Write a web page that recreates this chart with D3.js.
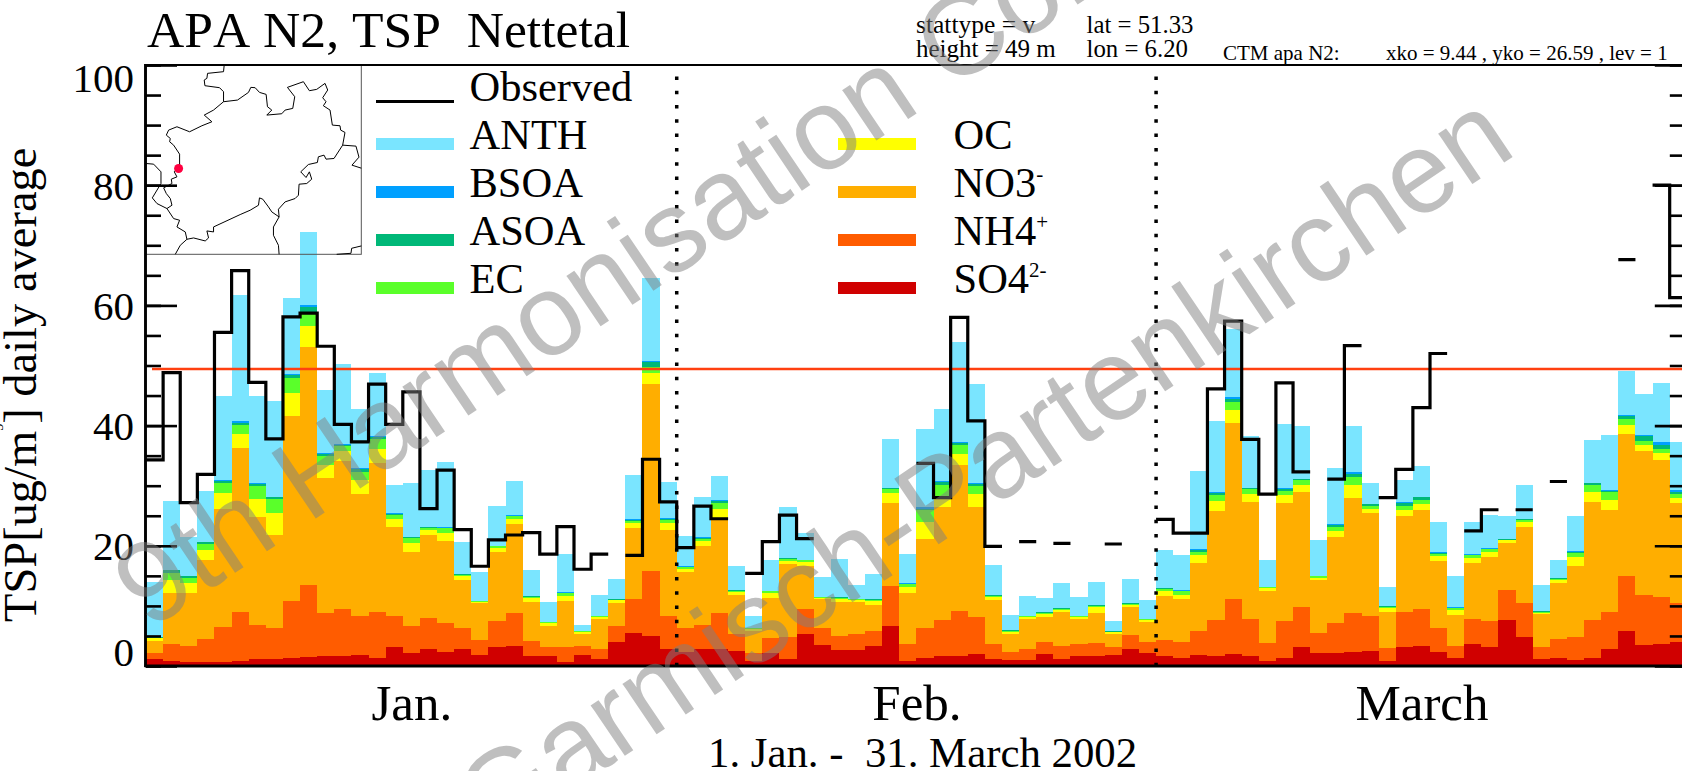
<!DOCTYPE html>
<html>
<head>
<meta charset="utf-8">
<script src="https://cdn.jsdelivr.net/npm/d3@7"></script>
<style>
  html, body { margin: 0; padding: 0; background: #fff; overflow: hidden; }
  svg { display: block; }
  text { font-family: "Liberation Serif", serif; fill: #000; white-space: pre; font-kerning: none; }
</style>
</head>
<body>
<script>
// Daily values, 1 Jan - 31 March 2002, ug/m3. Stacked bottom to top.
const so4 = [1.1,.8,.6,.6,.7,.8,1.1,1.2,1.3,1.5, 1.7,1.7,1.8,1.4,3.1,2.2,2.9,2.3,2.9,1.8, 3.1,3.3,1.7,1.6,.7,1.9,1.1,4,5.5,5, 2.8,
  2.3,2.8,2.8,2.5,.9,2.1,1.1,5.4,3.5, 2.6,2.7,3.3,6.7,.9,1.4,1.6,1.6,2,1.2, 1,1,2,1.2,1.7,1.6,1.8,2.8,2.2,
  1.6,1.3,1.8,1.7,2,1.6,.9,1.3,3.1,2.2,2.1, 2.4,2.5,.9,3.2,3.4,2.3,1.3,3.7,3.2,7.7, 4.8,1.2,1.4,1,1.4,2.9,5.9,3.5,3.6,4];
const nh4 = [1,2.8,2.7,3.9,5.8,8.2,5.8,5.1,9.5,12, 7.2,7.8,6.6,7.6,5.3,4.5,5.1,4.9,3.4,2.5, 4.4,5.5,2.5,1.6,2.5,1.4,1.7,2.7,5.6,10.8, 5.5,
  4.1,4.1,6,2.9,1.3,2.6,3.7,4.1,2.8, 2.4,2.6,2.5,6.6,2.8,4.9,6.1,7.6,6.2,2.5, 1.3,1.8,2,2.1,1.9,2.2,1.4,2.4,1.8,
  2.7,2.7,4,5.9,9.2,6.2,2.9,6.2,6.7,3.3,5.1, 6.5,5.9,2.1,5.8,6.1,4.1,2,4.1,4.3,5, 5.6,2,3.1,3.9,6.3,6.1,9.1,8.3,7.9,6.4];
const no3 = [2.1,8.5,8.8,13.1,19.6,27.2,17.9,15.5,30.8,39.6, 22.4,24.6,20.3,24.7,14.7,12.3,13.8,13.6,8,6.1, 11.4,14.8,6.5,3.5,7.6,2.1,5,3.8,11.9,31.1, 14.4,
  9.2,13.1,15.5,6.4,3.7,6.6,12.2,7.1,4.8, 5.6,5.4,4.4,13.9,8.5,14.8,18.7,24.2,18.3,7.2, 3,5,4.2,5.7,4.3,5.1,2.1,4.6,3.3,
  7.3,7.1,11.3,18.2,29.3,19.5,8.7,19.6,19.1,8.8,14.3, 19.1,17,6,16,16.5,11,5.2,9.3,10.6,7.7, 12.8,5.4,9.3,11.7,19.6,17,23.6,24,22.8,16.8];
const oc = [.4,2.2,1.7,1.7,2.7,2.4,3,3.6,3.8,3.5, 2.2,1.6,2.2,2.4,1.3,1.5,.8,1.4,.6,.3, .7,.8,.6,.4,.9,.3,.4,.4,.8,1.8, 1.1,
  .6,.8,1.9,.5,.3,.8,.5,.7,.2, .5,.3,.6,1.6,.9,2.9,1.5,1.9,2.1,.6, .4,.4,.5,.4,.3,1,.3,.4,.4,
  .8,.7,1.3,1.7,2.1,1.4,.4,1.3,1.2,.4,1, 2.1,.8,.6,.9,.9,.9,.9,.8,.9,.5, .7,.3,.5,1.5,1.7,1.7,1.5,1,1.1,.8];
const ec = [.1,1.2,.9,1,1.6,1.5,2.2,2.4,2.5,2.2, 1.4,.9,1.4,1.6,.7,.8,.4,.7,.3,.1, .3,.5,.2,.2,.4,.1,.1,.1,.4,1.1, .5,
  .2,.4,.9,.2,.1,.3,.3,.3,.1, .2,.1,.2,.7,.5,2,2.2,1.4,1.3,.2, .2,.1,.2,.1,.1,.1,.1,.1,.1,
  .4,.6,.6,1,1.3,.7,.2,.8,.8,.2,.7, 1.4,.5,.2,.7,.7,.4,.2,.5,.4,.1, .4,.1,.2,.7,1.1,1.2,1,.7,.7,.6];
const asoa = [.1,.4,.2,.3,.4,.4,.3,.3,.5,1, .4,.2,.4,.4,.2,.1,.1,.1,.1,0, .1,.1,.1,.1,.1,.1,.1,.1,.1,.7, .2,
  .1,.1,.3,.1,0,.1,.1,.1,0, .1,0,.1,.1,.1,.2,.5,.4,.4,.1, .1,.1,.1,.1,.1,.1,.1,.1,.1,
  .1,.1,.3,.3,.6,.2,.1,.3,.2,.1,.3, .5,.2,.2,.6,.5,.1,.1,.1,.1,.1, .1,.1,.1,.2,.4,.2,.5,.8,.7,.4];
const bsoa = [0,.1,.1,.1,.1,.2,.1,.1,.2,.2, .1,.1,.2,.2,.1,.1,.1,.1,0,0, 0,.1,0,0,.1,0,0,0,.1,.3, .1,
  .1,.1,.2,0,0,0,0,0,0, 0,0,0,.1,.1,.2,.2,.2,.1,0, 0,0,0,0,0,0,0,0,0,
  0,.1,.1,.1,.2,.1,0,.1,0,0,.1, .2,.1,0,.1,.1,.1,.1,.1,.1,0, .1,.1,0,.1,0,.2,.2,.1,.4,.3];
const anth = [9.1,11.5,6.4,8.4,14,21.1,14.6,15.9,12.6,12.2, 10.6,13.3,9.9,10.5,4.7,8.9,9.4,10.9,5.3,4.8, 6.6,5.6,4.4,3.2,6.4,.9,3.4,3.4,7.4,13.7, 6,
  5,6.8,4,4,2,5.1,8.6,4.4,3.4, 6.4,2.4,4.2,8.1,4.9,13,11.9,16.6,16.5,5, 2.5,3.2,2.3,4.2,3.1,3.9,1.7,4,3,
  6.4,5.9,13,11.9,11.4,8.6,4.4,10.7,8.9,6,9.4, 7.8,3.5,3.2,3.6,5.1,5,5.2,5.3,5.5,3.9, 5.6,4.2,3,5.9,7.1,9.1,7.3,6.9,9.9,7.9];

// Station measurements, null where there is no value for the day
const observed = [34.3,48.8,27.2,31.9,55.5,65.8,47.2,37.8,58.1,58.7, 53.2,40.2,37.3,46.9,40.2,45.6,26.2,32.6,22.7,16.6, 21,21.8,22.2,18.6,23.2,16.1,18.6,null,18.4,34.4, 27.3,
  19.7,26.6,24.5,null,15.4,20.7,25.1,21.2,null, null,null,null,null,null,33.7,28,58,40.8,19.9, null,20.7,null,20.4,null,null,20.3,null,null,
  24.4,22.1,22.1,46.1,57.4,37.7,28.6,47.1,32.3,null,31.1, 53.3,null,28,32.7,43,52,null,22.5,26,null, 26,null,30.7,null,null,null,67.6,null,80,61.3];

const seriesKeys = ["SO4","NH4","NO3","OC","EC","ASOA","BSOA","ANTH"];
const seriesValues = [so4,nh4,no3,oc,ec,asoa,bsoa,anth];
const seriesColors = ["#d00000","#ff5c00","#ffae00","#ffff00","#5aff2a","#00b878","#00a0ff","#7ae5ff"];
const seriesSup = {SO4:"2-", NH4:"+", NO3:"-"};

const legendLeft = ["ANTH","BSOA","ASOA","EC"];
const legendRight = ["OC","NO3","NH4","SO4"];

const limitValue = 49.4;
const monthStarts = [31, 59];
const monthNames = ["Jan.","Feb.","March"];
const monthLabelDays = [15.5, 45, 74.5];
const majorTicks = [0,20,40,60,80,100];
const minorTicks = d3.range(0,101,5);
const watermarkLines = ["9th Harmonisation Conference","Garmisch-Partenkirchen"];

// Outline of the state on the inset map, in map units
const mapBorders = [
  [[282,30],[280,50],[232,55],[230,70],[222,75],[224,92],[268,98],[280,110],[280,140]],
  [[280,140],[322,135],[355,112],[362,97],[375,98],[388,112],[408,118],[412,155],[425,165],[410,180],[455,176],[465,165],[488,160],[494,125],[472,97],
   [520,80],[538,107],[560,103],[585,85],[593,105],[578,128],[588,140],[580,152],[600,165],[607,210],[630,212],[632,225],[645,232],[638,270],[612,310],
   [588,312],[582,300],[565,305],[562,322],[535,328],[512,350],[528,367],[538,350],[545,372],[530,385],[507,387],[505,420],[495,430],[465,440],[445,462],
   [447,485],[425,470],[415,455],[398,432],[388,428],[385,450],[360,465],[330,478],[250,515],[250,530],[230,527],[235,548],[225,557],[190,548],[170,552],
   [165,530],[140,515],[148,495],[130,490],[110,460],[125,450],[120,430],[108,415],[100,398],[125,385],[123,372],[140,365],[132,350],[148,330],[148,297],
   [130,270],[118,260],[120,250],[108,240],[115,225],[140,215],[178,230],[215,212],[245,200],[222,180],[250,165],[280,140]],
  [[447,485],[430,515],[430,540],[445,570],[447,597]],
  [[170,552],[150,570],[135,597]],
  [[47,325],[70,327],[92,350],[92,385],[66,428],[80,445],[110,460]],
  [[638,270],[678,273],[687,306],[666,330],[694,339]],
  [[620,597],[663,594],[665,579],[694,572]]
];
const mapStation = [145,340];

const width = 1682, height = 771;

const svg = d3.select("body").append("svg")
  .attr("width", width)
  .attr("height", height)
  .attr("viewBox", "0 0 " + width + " " + height);

const x = d3.scaleLinear().domain([0,90]).range([146,1686.8]);
const y = d3.scaleLinear().domain([0,100]).range([666,65]);

// ----- Stacked bars -----
const days = d3.range(90);
const rows = days.map(i => {
  const row = {day:i};
  seriesKeys.forEach((k,j) => { row[k] = seriesValues[j][i]; });
  return row;
});
const stacked = d3.stack().keys(seriesKeys)(rows);

svg.append("g").selectAll("g")
  .data(stacked)
  .enter().append("g")
  .attr("fill", (d,i) => seriesColors[i])
  .selectAll("rect")
  .data(d => d)
  .enter().append("rect")
  .attr("x", d => x(d.data.day))
  .attr("width", d => x(d.data.day+1)-x(d.data.day))
  .attr("y", d => y(d[1]))
  .attr("height", d => y(d[0])-y(d[1]))
  .attr("shape-rendering","crispEdges");

// ----- Inset map -----
const mapX = d3.scaleLinear().domain([47,694]).range([146,361.3]);
const mapY = d3.scaleLinear().domain([30,597]).range([65,254.3]);
const mapLine = d3.line().x(d => mapX(d[0])).y(d => mapY(d[1]));

const inset = svg.append("g");
inset.append("rect")
  .attr("x", mapX(47)).attr("y", mapY(30))
  .attr("width", mapX(694)-mapX(47)).attr("height", mapY(597)-mapY(30))
  .attr("fill","none").attr("stroke","#555").attr("stroke-width",1);
inset.selectAll("path.border")
  .data(mapBorders)
  .enter().append("path")
  .attr("class","border")
  .attr("d", mapLine)
  .attr("fill","none").attr("stroke","#000").attr("stroke-width",1);
inset.append("circle")
  .attr("cx", mapX(mapStation[0])).attr("cy", mapY(mapStation[1]))
  .attr("r",4.5).attr("fill","#ff0040");

// ----- Axes, ticks point inwards on both sides -----
function styleAxis(g, lineWidth){
  g.selectAll("path").remove();
  g.selectAll("line").attr("stroke","#000").attr("stroke-width",lineWidth);
}

svg.append("g")
  .attr("transform","translate(" + x(0) + ",0)")
  .call(d3.axisLeft(y).tickValues(minorTicks).tickSize(-15).tickFormat(""))
  .call(styleAxis, 2.6);

const leftMajor = svg.append("g")
  .attr("transform","translate(" + x(0) + ",0)")
  .call(d3.axisLeft(y).tickValues(majorTicks).tickSize(-31))
  .call(styleAxis, 2.6);
leftMajor.selectAll("text")
  .attr("font-family","Liberation Serif")
  .attr("font-size",41)
  .attr("dy", d => d === 100 ? 26 : (d === 0 ? -1 : 14))
  .attr("x",-12);

svg.append("g")
  .attr("transform","translate(" + x(90) + ",0)")
  .call(d3.axisRight(y).tickValues(minorTicks).tickSize(-17).tickFormat(""))
  .call(styleAxis, 2.6);
svg.append("g")
  .attr("transform","translate(" + x(90) + ",0)")
  .call(d3.axisRight(y).tickValues(majorTicks).tickSize(-32).tickFormat(""))
  .call(styleAxis, 2.6);

const xAxis = svg.append("g")
  .attr("transform","translate(0," + y(0) + ")")
  .call(d3.axisBottom(x).tickValues(monthLabelDays).tickSize(0).tickFormat((d,i) => monthNames[i]));
xAxis.selectAll("path").remove();
xAxis.selectAll("text")
  .attr("font-family","Liberation Serif")
  .attr("font-size",51)
  .attr("y",54)
  .attr("dy",0);

// frame
svg.append("line").attr("x1",x(0)-1.3).attr("x2",x(90)).attr("y1",y(100)).attr("y2",y(100)).attr("stroke","#000").attr("stroke-width",2);
svg.append("line").attr("x1",x(0)-1.3).attr("x2",x(90)).attr("y1",y(0)).attr("y2",y(0)).attr("stroke","#000").attr("stroke-width",2.8);
svg.append("line").attr("x1",x(0)-.5).attr("x2",x(0)-.5).attr("y1",y(100)-1).attr("y2",y(0)+1).attr("stroke","#000").attr("stroke-width",2.9);

// month separators
svg.append("g").selectAll("line")
  .data(monthStarts)
  .enter().append("line")
  .attr("x1", d => x(d)).attr("x2", d => x(d))
  .attr("y1", y(98.1)).attr("y2", y(0))
  .attr("stroke","#000").attr("stroke-width",3.5)
  .attr("stroke-dasharray","3.5 10.8");

// limit line
svg.append("line")
  .attr("x1",152).attr("x2",x(90))
  .attr("y1",y(limitValue)).attr("y2",y(limitValue))
  .attr("stroke","#ff4010").attr("stroke-width",2.5);

// ----- Observed step line, broken where a day is missing -----
const observedSteps = [];
observed.forEach((v,i) => {
  if (v === null) { observedSteps.push({x:i, v:null}); return; }
  observedSteps.push({x:i, v:v}, {x:i+1, v:v});
});
svg.append("path")
  .attr("d", d3.line().defined(d => d.v !== null).x(d => x(d.x)).y(d => y(d.v))(observedSteps))
  .attr("fill","none").attr("stroke","#000").attr("stroke-width",3.2)
  .attr("stroke-linejoin","miter");

// ----- Legend -----
function addText(str, px, py, size){
  return svg.append("text").attr("x",px).attr("y",py).attr("font-size",size).text(str);
}

function addLegendRow(key, swatchX, labelX, row){
  const base = 101 + 48*row;
  svg.append("rect")
    .attr("x",swatchX).attr("y",base-11).attr("width",78).attr("height",12)
    .attr("fill", seriesColors[seriesKeys.indexOf(key)]);
  const label = addText(key, labelX, base, 42.5);
  if (seriesSup[key]) {
    label.append("tspan").attr("dy",-16).attr("font-size",21).text(seriesSup[key]);
  }
}

svg.append("line").attr("x1",376).attr("x2",454).attr("y1",101.5).attr("y2",101.5).attr("stroke","#000").attr("stroke-width",3);
addText("Observed",469.5,101,42.5);
legendLeft.forEach((k,i) => addLegendRow(k,376,469.5,i+1));
legendRight.forEach((k,i) => addLegendRow(k,953.5-115.5,953.5,i+1));

// ----- Header and captions -----
addText("APA N2, TSP  Nettetal",147,47,51.6);
addText("stattype = v",916,33,25.5);
addText("height = 49 m",916,57,25);
addText("lat = 51.33",1086.5,33,24.8);
addText("lon = 6.20",1086.5,57,24.8);
addText("CTM apa N2:",1223,60,21);
addText("xko = 9.44 , yko = 26.59 , lev = 1",1386,60,21);
addText("1. Jan. -  31. March 2002",708,767,42.8);

const yLabel = svg.append("text")
  .attr("transform","translate(36,622) rotate(-90)")
  .attr("font-size",46.5)
  .text("TSP[ug/m");
yLabel.append("tspan").attr("dy",-33).attr("font-size",14).text("3");
yLabel.append("tspan").attr("dy",33).text("] daily average");

// ----- Watermark on top of everything -----
svg.append("g").selectAll("text")
  .data(watermarkLines)
  .enter().append("text")
  .attr("transform",(d,i) => i === 0 ? "translate(149,631) rotate(-34)" : "translate(491,846) rotate(-34)")
  .attr("font-size",115)
  .style("font-family","'Liberation Sans', sans-serif")
  .style("fill","rgb(128,128,128)")
  .style("fill-opacity",0.5)
  .text(d => d);
</script>
</body>
</html>
